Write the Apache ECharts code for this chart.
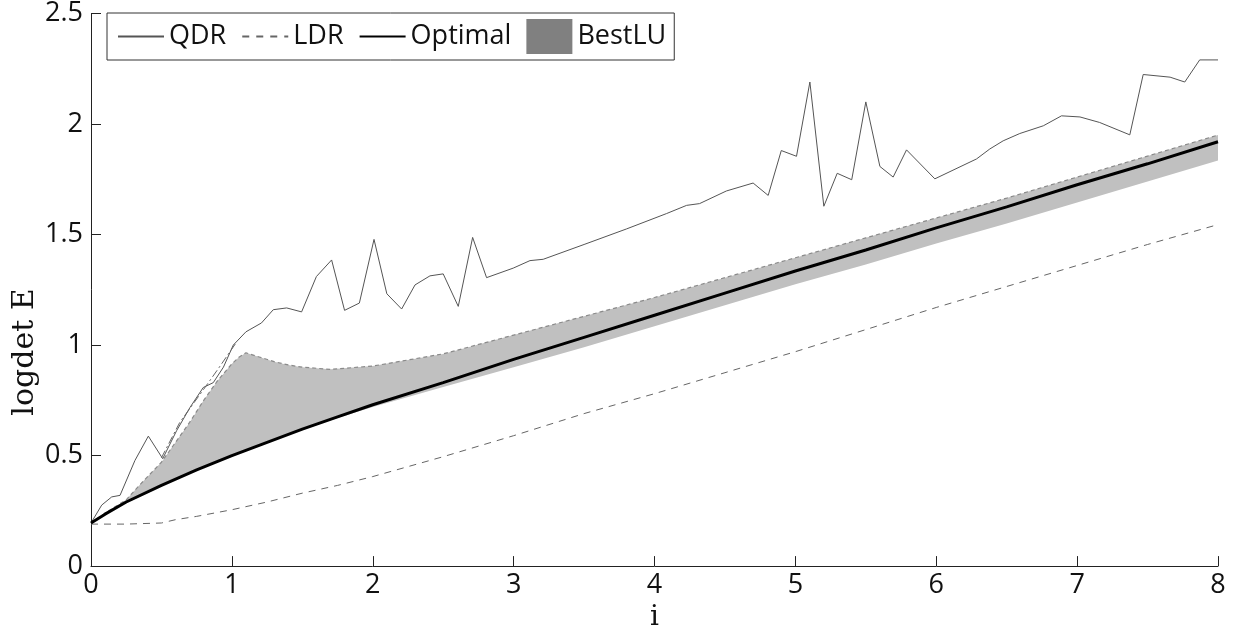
<!DOCTYPE html>
<html>
<head>
<meta charset="utf-8">
<script src="https://cdn.jsdelivr.net/npm/echarts@6/dist/echarts.min.js"></script>
<style>
html,body{margin:0;padding:0;background:#fff;}
#chart{width:1238px;height:637px;}
</style>
</head>
<body>
<div id="chart"></div>
<script>
// ---- data ----
const xTicks = [0, 1, 2, 3, 4, 5, 6, 7, 8];
const yTicks = [0, 0.5, 1, 1.5, 2, 2.5];

const qdrX = [0, 0.076, 0.147, 0.206, 0.312, 0.407, 0.509, 0.608, 0.703, 0.797, 0.868, 0.94, 1.01, 1.1, 1.21, 1.294, 1.389, 1.495, 1.6, 1.708, 1.8, 1.905, 2.009, 2.1, 2.205, 2.3, 2.406, 2.5, 2.607, 2.709, 2.808, 2.997, 3.116, 3.21, 3.5, 3.8, 4.086, 4.228, 4.32, 4.51, 4.7, 4.807, 4.9, 5.008, 5.103, 5.202, 5.297, 5.4, 5.5, 5.6, 5.694, 5.789, 5.99, 6.286, 6.38, 6.475, 6.593, 6.76, 6.889, 7.02, 7.16, 7.374, 7.469, 7.66, 7.764, 7.87, 8.0];
const qdrY = [0.195, 0.276, 0.313, 0.32, 0.478, 0.588, 0.486, 0.613, 0.718, 0.808, 0.83, 0.9, 1.0, 1.06, 1.1, 1.16, 1.168, 1.15, 1.31, 1.385, 1.157, 1.19, 1.478, 1.232, 1.163, 1.272, 1.313, 1.322, 1.175, 1.487, 1.305, 1.348, 1.382, 1.388, 1.455, 1.525, 1.595, 1.632, 1.64, 1.697, 1.733, 1.677, 1.88, 1.854, 2.19, 1.628, 1.777, 1.748, 2.1, 1.808, 1.76, 1.883, 1.752, 1.842, 1.887, 1.924, 1.957, 1.992, 2.037, 2.032, 2.007, 1.951, 2.224, 2.212, 2.19, 2.29, 2.29];

const ldrX = [0, 0.25, 0.5, 0.6, 0.75, 1, 1.25, 1.5, 1.75, 2, 2.5, 3, 3.5, 4, 4.5, 5, 5.5, 6, 6.5, 7, 7.5, 8];
const ldrY = [0.19, 0.19, 0.195, 0.21, 0.225, 0.255, 0.29, 0.33, 0.365, 0.405, 0.495, 0.59, 0.69, 0.78, 0.875, 0.97, 1.07, 1.17, 1.265, 1.36, 1.455, 1.545];

const optX = [0, 0.1, 0.25, 0.5, 0.75, 1, 1.25, 1.5, 1.75, 2, 2.5, 3, 3.5, 4, 4.5, 5, 5.5, 6, 6.5, 7, 7.5, 8];
const optY = [0.195, 0.235, 0.29, 0.365, 0.435, 0.5, 0.56, 0.62, 0.675, 0.73, 0.83, 0.935, 1.035, 1.135, 1.235, 1.335, 1.43, 1.53, 1.625, 1.725, 1.82, 1.92];

const bandX = [0, 0.1, 0.25, 0.35, 0.5, 0.6, 0.7, 0.8, 0.9, 1.0, 1.05, 1.1, 1.2, 1.3, 1.4, 1.5, 1.7, 2, 2.5, 3, 3.5, 4, 4.5, 5, 5.5, 6, 6.5, 7, 7.5, 8];
const bandUpper = [0.195, 0.24, 0.30, 0.37, 0.47, 0.56, 0.65, 0.75, 0.84, 0.915, 0.945, 0.965, 0.945, 0.925, 0.91, 0.90, 0.89, 0.905, 0.96, 1.045, 1.13, 1.215, 1.305, 1.395, 1.485, 1.575, 1.665, 1.76, 1.855, 1.95];
const bandLower = [0.195, 0.232, 0.285, 0.315, 0.36, 0.39, 0.418, 0.445, 0.47, 0.495, 0.507, 0.52, 0.545, 0.57, 0.595, 0.615, 0.66, 0.72, 0.81, 0.90, 0.99, 1.085, 1.18, 1.275, 1.365, 1.46, 1.55, 1.645, 1.74, 1.835];

const dashDotX = [0.5, 0.63, 0.8, 0.9, 1.03];
const dashDotY = [0.49, 0.65, 0.80, 0.89, 1.01];

const legendNames = ['QDR', 'LDR', 'Optimal', 'BestLU'];

// ---- build ----
const pairs = (xs, ys) => xs.map((x, i) => [x, ys[i]]);
const sansFont = '"Open Sans", "Noto Sans", sans-serif';
const serifFont = '"DejaVu Serif", "Liberation Serif", serif';

const chart = echarts.init(document.getElementById('chart'), null, {renderer: 'canvas'});

const option = {
  animation: false,
  backgroundColor: '#fff',
  grid: {left: 91, right: 20, top: 12, bottom: 69, containLabel: false},
  legend: {
    data: [
      {name: legendNames[0]},
      {name: legendNames[1], lineStyle: {type: [7, 7]}},
      {name: legendNames[2]},
      {name: legendNames[3], icon: 'rect', itemStyle: {opacity: 1, color: '#808080', borderWidth: 0, decal: 'none'}}
    ],
    left: 107, top: 13,
    orient: 'horizontal',
    padding: [6, 8, 6, 10],
    itemGap: 15,
    itemWidth: 46,
    itemHeight: 35,
    itemStyle: {opacity: 0},
    borderColor: '#333',
    borderWidth: 1,
    backgroundColor: '#fff',
    textStyle: {fontFamily: sansFont, fontSize: 27, color: '#111'},
    selectedMode: false
  },
  xAxis: {
    type: 'value', min: 0, max: 8, interval: 1,
    name: 'i', nameLocation: 'middle', nameGap: 36,
    nameTextStyle: {fontFamily: serifFont, fontSize: 28, color: '#111'},
    axisLine: {show: true, lineStyle: {color: '#222', width: 1}},
    axisTick: {show: true, inside: true, length: 10, lineStyle: {color: '#222'}},
    axisLabel: {fontFamily: sansFont, fontSize: 27, color: '#111', margin: 6,
      formatter: v => xTicks.includes(v) ? String(v) : ''},
    splitLine: {show: false}
  },
  yAxis: {
    type: 'value', min: 0, max: 2.5, interval: 0.5,
    axisLine: {show: true, lineStyle: {color: '#222', width: 1}},
    axisTick: {show: true, inside: true, length: 10, lineStyle: {color: '#222'}},
    axisLabel: {fontFamily: sansFont, fontSize: 27, color: '#111', margin: 8,
      formatter: v => yTicks.includes(v) ? String(v) : ''},
    splitLine: {show: false}
  },
  graphic: [{
    type: 'text',
    x: 25, y: 352,
    rotation: Math.PI / 2,
    style: {text: 'logdet E', font: '30px ' + serifFont, fill: '#111', align: 'center', verticalAlign: 'middle'}
  }],
  series: [
    {
      name: 'BestLU',
      type: 'custom',
      z: 1,
      itemStyle: {color: '#808080', borderWidth: 0},
      data: [[0, 0]],
      renderItem: function (params, api) {
        const pts = [];
        for (let i = 0; i < bandX.length; i++) pts.push(api.coord([bandX[i], bandUpper[i]]));
        for (let i = bandX.length - 1; i >= 0; i--) pts.push(api.coord([bandX[i], bandLower[i]]));
        return {type: 'polygon', shape: {points: pts}, style: {fill: '#c0c0c0', stroke: null}};
      }
    },
    {
      name: 'BestLU-edge',
      type: 'line', z: 2, symbol: 'none', silent: true,
      data: pairs(bandX, bandUpper),
      lineStyle: {color: '#8a8a8a', width: 1.2, type: [4, 3]}
    },
    {
      name: 'LDR',
      type: 'line', z: 3, symbol: 'none',
      data: pairs(ldrX, ldrY),
      itemStyle: {color: '#666'},
      lineStyle: {color: '#666', width: 1, type: [7, 6]}
    },
    {
      name: 'QDR',
      type: 'line', z: 4, symbol: 'none',
      data: pairs(qdrX, qdrY),
      itemStyle: {color: '#555'},
      lineStyle: {color: '#555', width: 1}
    },
    {
      name: 'dash-dot',
      type: 'line', z: 4, symbol: 'none', silent: true,
      data: pairs(dashDotX, dashDotY),
      lineStyle: {color: '#666', width: 1, type: [8, 3, 2, 3]}
    },
    {
      name: 'Optimal',
      type: 'line', z: 5, symbol: 'none',
      data: pairs(optX, optY),
      itemStyle: {color: '#000'},
      lineStyle: {color: '#000', width: 3}
    }
  ]
};
chart.setOption(option);
</script>
</body>
</html>
